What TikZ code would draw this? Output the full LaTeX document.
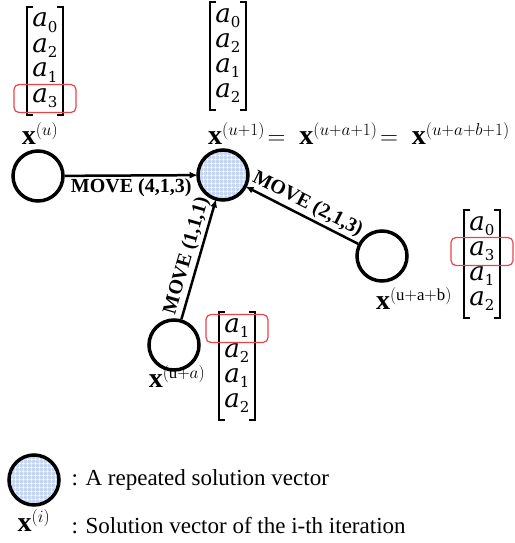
\documentclass[tikz,border=0pt]{standalone}
\usepackage{fontspec}
\setmainfont{Liberation Serif}
\newfontfamily\vecfont{DejaVu Serif}
\usepackage{tikz}
\usetikzlibrary{arrows.meta,positioning,matrix,patterns.meta}
\definecolor{repblue}{HTML}{C8D7F1}
\definecolor{hired}{HTML}{E8454A}
\newcommand{\bx}{\mbox{\fontsize{28}{30}\selectfont\bfseries x}}
\newcommand{\ent}[1]{{\itshape a}\raisebox{-5pt}{\fontsize{15}{15}\selectfont #1}}

\begin{document}
\begin{tikzpicture}[x=1pt,y=-1pt,>={Latex[length=8pt,width=7pt]},
    state/.style={circle,draw,line width=3.5pt,minimum size=50pt,inner sep=0pt},
    repeated/.style={state,preaction={fill=repblue},
      pattern={Hatch[angle=0,distance=4pt,line width=0.6pt]},pattern color=white},
    move/.style={->,line width=2.5pt},
    movelbl/.style={font=\fontsize{20}{22}\selectfont\bfseries,inner sep=2pt},
    xlbl/.style={font=\fontsize{24}{26}\selectfont,inner sep=0pt},
    legend/.style={font=\fontsize{23}{26}\selectfont,anchor=base west},
    vec/.style={matrix of nodes,inner xsep=5pt,inner ysep=4pt,row sep=0pt,
      nodes={font=\vecfont\fontsize{26}{28}\selectfont,
        text height=16pt,text depth=9pt,inner sep=0pt}},
    brk/.style={line width=1.6pt},
    hilite/.style={draw=hired,line width=1.2pt,rounded corners=5pt,
      minimum width=62pt,minimum height=28pt}]
    \useasboundingbox (0,0) rectangle (514,543);

    % solution vectors
    \node[state] (xu) at (38,176) {};
    \node[repeated] (xrep) at (223,175) {};
    \node[state] (xab) at (382,256) {};
    \node[state] (xa) at (174,345) {};

    \node[xlbl] (xulbl) at (40,134) {$\bx^{(u)}$};
    \node[xlbl,anchor=west] (replbl) at (208,134)
      {$\bx^{(u+1)}\!=\;\bx^{(u+a+1)}\!=\;\bx^{(u+a+b+1)}$};
    \node[xlbl] (xablbl) at (414,299) {$\bx^{(\mathrm{u+a+b})}$};
    \node[xlbl] (xalbl) at (177,377) {$\bx^{(\mathrm{u}+a)}$};

    % moves
    \draw[move] (xu) -- node[movelbl,below] (m413) {MOVE (4,1,3)} (xrep);
    \draw[move] (xa) -- node[movelbl,above,sloped] (m111) {MOVE (1,1,1)} (xrep);
    \draw[move,<-] (xrep) -- node[movelbl,above,sloped] (m213) {MOVE (2,1,3)} (xab);

    % vectors
    \matrix (vu) [vec] at (45,61) {\ent0\\ \ent2\\ \ent1\\ \ent3\\};
    \matrix (vrep) [vec] at (228,56) {\ent0\\ \ent2\\ \ent1\\ \ent2\\};
    \matrix (vab) [vec] at (482,264) {\ent0\\ \ent3\\ \ent1\\ \ent2\\};
    \matrix (va) [vec] at (237,366) {\ent1\\ \ent2\\ \ent1\\ \ent2\\};
    \foreach \v in {vu,vrep,vab,va}
    {
        \draw[brk] ([xshift=6pt]\v.north west) -- (\v.north west)
          -- (\v.south west) -- ([xshift=6pt]\v.south west);
        \draw[brk] ([xshift=-6pt]\v.north east) -- (\v.north east)
          -- (\v.south east) -- ([xshift=-6pt]\v.south east);
    }
    \node[hilite] (hu) at (vu-4-1) {};
    \node[hilite] (hab) at (vab-2-1) {};
    \node[hilite] (ha) at (va-1-1) {};

    % legend
    \node[repeated] (lgrep) at (34,480) {};
    \node[legend] (lgtxt1) at (68,485) {: A repeated solution vector};
    \node[xlbl] (lgx) at (34,521) {$\bx^{(i)}$};
    \node[legend] (lgtxt2) at (68,533) {: Solution vector of the i-th iteration};
\end{tikzpicture}
\end{document}
